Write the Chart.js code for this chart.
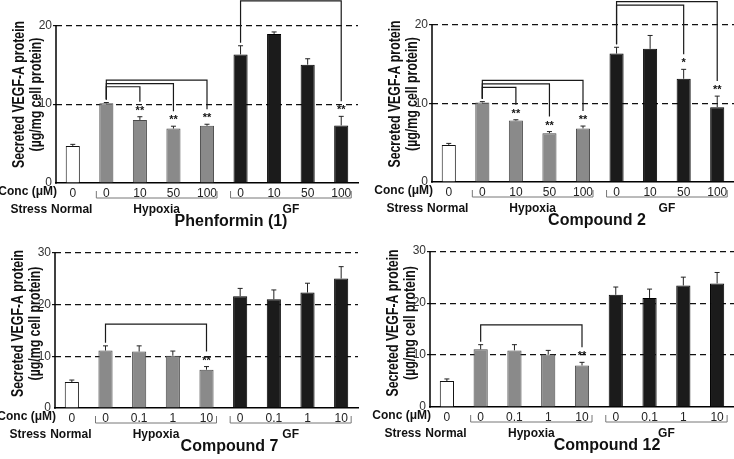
<!DOCTYPE html>
<html>
<head>
<meta charset="utf-8">
<script src="https://cdn.jsdelivr.net/npm/chart.js@4.4.1/dist/chart.umd.min.js"></script>
<style>
    html, body { margin: 0; padding: 0; background: #fff; }
    #wrap { position: relative; width: 734px; height: 459px; overflow: hidden; }
    canvas { position: absolute; }
</style>
</head>
<body>
<div id="wrap">
    <canvas id="p1" width="367" height="230" style="left:0;top:0"></canvas>
    <canvas id="p2" width="367" height="230" style="left:367px;top:0"></canvas>
    <canvas id="p3" width="367" height="229" style="left:0;top:230px"></canvas>
    <canvas id="p4" width="367" height="229" style="left:367px;top:230px"></canvas>
</div>
<script>
// ---- data ----
const CONC_HIGH = ['0', '0', '10', '50', '100', '0', '10', '50', '100'];
const CONC_LOW  = ['0', '0', '0.1', '1', '10', '0', '0.1', '1', '10'];

// stress groups: label + first/last bar index
const STRESS_GROUPS = [
    { label: 'Normal',  from: 0, to: 0, bracket: false },
    { label: 'Hypoxia', from: 1, to: 4, bracket: true  },
    { label: 'GF',      from: 5, to: 8, bracket: true  },
];

const PHEN_MEAN  = [4.7, 10.1, 8.0, 6.9, 7.25, 16.3, 18.9, 15.0, 7.3];
const PHEN_ERR   = [0.2, 0.1, 0.4, 0.3, 0.2, 1.1, 0.25, 0.75, 1.15];
const CPD2_MEAN  = [4.7, 10.1, 7.8, 6.2, 6.8, 16.3, 16.9, 13.1, 9.5];
const CPD2_ERR   = [0.2, 0.1, 0.1, 0.2, 0.3, 0.8, 1.7, 1.2, 1.4];
const CPD7_MEAN  = [5.0, 11.1, 10.9, 10.1, 7.4, 21.6, 21.0, 22.3, 25.0];
const CPD7_ERR   = [0.4, 0.9, 1.1, 0.9, 0.6, 1.5, 1.8, 1.8, 2.3];
const CPD12_MEAN = [5.0, 11.1, 10.9, 10.1, 8.0, 21.6, 21.0, 23.4, 23.8];
const CPD12_ERR  = [0.4, 0.9, 1.1, 0.8, 0.6, 1.5, 1.7, 1.6, 2.1];

// significance: compared bars, bracket height (y units), mark
const PHEN_SIG  = [
    { from: 1, to: 2, level: 12.2,  mark: '**' },
    { from: 1, to: 3, level: 12.6,  mark: '**' },
    { from: 1, to: 4, level: 13.05, mark: '**' },
    { from: 5, to: 8, level: 23.1,  mark: '**' },
];
const CPD2_SIG  = [
    { from: 1, to: 2, level: 12.0,  mark: '**' },
    { from: 1, to: 3, level: 12.45, mark: '**' },
    { from: 1, to: 4, level: 12.9,  mark: '**' },
    { from: 5, to: 7, level: 22.45, mark: '*'  },
    { from: 5, to: 8, level: 22.9,  mark: '**' },
];
const CPD7_SIG  = [{ from: 1, to: 4, level: 16.2, mark: '**' }];
const CPD12_SIG = [{ from: 1, to: 4, level: 15.8, mark: '**' }];

const Y_TITLE = ['Secreted VEGF-A protein', '(\u00b5g/mg cell protein)'];

// ---- styling ----
const FONT     = "'Liberation Sans', Arial, Helvetica, sans-serif";
const BAR_FILL = ['#ffffff', '#8a8a8a', '#8a8a8a', '#8a8a8a', '#8a8a8a', '#1b1b1b', '#1b1b1b', '#1b1b1b', '#1b1b1b'];
const BAR_EDGE = ['#111111', '#4a4a4a', '#4a4a4a', '#4a4a4a', '#4a4a4a', '#000000', '#000000', '#000000', '#000000'];

Chart.defaults.font.family = FONT;
Chart.defaults.color = '#222';

const errorBars = {
    id: 'errorBars',
    afterDatasetsDraw(chart) {
        const { ctx } = chart;
        const y  = chart.scales.y;
        const ds = chart.data.datasets[0];
        ctx.save();
        ctx.strokeStyle = '#222';
        ctx.lineWidth = 1;
        chart.getDatasetMeta(0).data.forEach((bar, i) => {
            const top = y.getPixelForValue(ds.data[i] + ds.errors[i]);
            ctx.beginPath();
            ctx.moveTo(bar.x, bar.y);
            ctx.lineTo(bar.x, top);
            ctx.moveTo(bar.x - 2.5, top);
            ctx.lineTo(bar.x + 2.5, top);
            ctx.stroke();
        });
        ctx.restore();
    },
};

function makeDecor(cfg) {
    return {
        id: 'decor',
        afterDraw(chart) {
            const { ctx, chartArea } = chart;
            const x    = chart.scales.x;
            const y    = chart.scales.y;
            const ds   = chart.data.datasets[0];
            const base = chartArea.bottom;
            const left = chartArea.left;

            ctx.save();

            // y axis line, only up to the last tick
            const topTick = y.ticks[y.ticks.length - 1].value;
            ctx.strokeStyle = '#000';
            ctx.lineWidth = 1.5;
            ctx.beginPath();
            ctx.moveTo(left, y.getPixelForValue(0) + 0.75);
            ctx.lineTo(left, y.getPixelForValue(topTick));
            ctx.stroke();

            // y title, condensed bold like the original
            const midY = (chartArea.top + chartArea.bottom) / 2 + 3;
            ctx.fillStyle = '#111';
            ctx.font = `bold 16px ${FONT}`;
            ctx.textAlign = 'center';
            ctx.textBaseline = 'alphabetic';
            Y_TITLE.forEach((line, i) => {
                ctx.save();
                ctx.translate(left - 32 + i * 16.5, midY);
                ctx.rotate(-Math.PI / 2);
                ctx.scale(0.77, 1);
                ctx.fillText(line, 0, 0);
                ctx.restore();
            });

            // significance brackets + stars
            ctx.strokeStyle = '#1a1a1a';
            ctx.lineWidth = 1.2;
            ctx.font = `bold 11px ${FONT}`;
            cfg.sig.forEach(s => {
                const x1    = x.getPixelForValue(s.from);
                const x2    = x.getPixelForValue(s.to);
                const yl    = y.getPixelForValue(s.level);
                const y1    = y.getPixelForValue(ds.data[s.from] + ds.errors[s.from]) - 3;
                const yStar = y.getPixelForValue(ds.data[s.to] + ds.errors[s.to]) - 9;
                ctx.beginPath();
                ctx.moveTo(x1, y1);
                ctx.lineTo(x1, yl);
                ctx.lineTo(x2, yl);
                ctx.lineTo(x2, yStar - 6);
                ctx.stroke();
                ctx.fillText(s.mark, x2, yStar + 6);
            });

            // concentration row label
            ctx.textBaseline = 'middle';
            ctx.textAlign = 'right';
            ctx.font = `bold 12px ${FONT}`;
            ctx.fillText('Conc (\u03bcM)', left + 1, base + 9);

            // stress groups
            const rowY = base + 27;
            STRESS_GROUPS.forEach(g => {
                const xa = x.getPixelForValue(g.from);
                const xb = x.getPixelForValue(g.to);
                if (g.bracket) {
                    ctx.strokeStyle = '#777';
                    ctx.lineWidth = 1;
                    ctx.beginPath();
                    ctx.moveTo(xa - 10, base + 8);
                    ctx.lineTo(xa - 10, base + 15);
                    ctx.lineTo(xb + 10, base + 15);
                    ctx.lineTo(xb + 10, base + 8);
                    ctx.stroke();
                }
                const cx = (xa + xb) / 2 - (g.bracket ? 0 : 1);
                ctx.textAlign = 'center';
                ctx.fillText(g.label, cx, rowY);
                if (!g.bracket) {
                    const w = ctx.measureText(g.label).width;
                    ctx.textAlign = 'right';
                    ctx.fillText('Stress', cx - w / 2 - 4, rowY);
                }
            });

            // compound name
            ctx.textAlign = 'center';
            ctx.font = `bold 16px ${FONT}`;
            ctx.fillText(cfg.title, cfg.titleX, base + 39);

            ctx.restore();
        },
    };
}

function makePanel(cfg) {
    const ctx = document.getElementById(cfg.id);
    return new Chart(ctx, {
        type: 'bar',
        data: {
            labels: cfg.conc,
            datasets: [{
                data: cfg.mean,
                errors: cfg.err,
                backgroundColor: BAR_FILL,
                borderColor: BAR_EDGE,
                borderWidth: 1,
                barPercentage: 0.42,
                categoryPercentage: 1,
            }],
        },
        options: {
            responsive: false,
            animation: false,
            devicePixelRatio: 1,
            layout: { padding: { left: cfg.padLeft, right: cfg.padRight, top: cfg.padTop, bottom: 0 } },
            plugins: { legend: { display: false }, tooltip: { enabled: false } },
            scales: {
                x: {
                    grid: { display: false, drawTicks: false },
                    border: { color: '#000', width: 1.5 },
                    ticks: { color: '#222', font: { size: 12 }, padding: 3, maxRotation: 0, autoSkip: false },
                    afterFit: (s) => {
                        s.height = cfg.xH;
                        s.paddingLeft = 0;
                        s.paddingRight = 0;
                    },
                },
                y: {
                    min: 0,
                    max: cfg.yMax,
                    border: { display: false, dash: [6, 4] },
                    grid: {
                        color: (c) => (c.tick && c.tick.value === 0 ? 'rgba(0,0,0,0)' : '#111'),
                        lineWidth: 1.2,
                        drawTicks: true,
                        tickLength: 3,
                    },
                    ticks: { stepSize: 10, includeBounds: false, color: '#333', font: { size: 12 }, padding: 1 },
                    afterFit: (s) => {
                        s.width = cfg.yW;
                        s.paddingTop = 0;
                        s.paddingBottom = 0;
                    },
                },
            },
        },
        plugins: [errorBars, makeDecor(cfg)],
    });
}

makePanel({ id: 'p1', conc: CONC_HIGH, mean: PHEN_MEAN,  err: PHEN_ERR,  sig: PHEN_SIG,  title: 'Phenformin (1)',
            padLeft: 0, padRight: 9, padTop: 0, yW: 56, xH: 47, yMax: 23.2, titleX: 231 });
makePanel({ id: 'p2', conc: CONC_HIGH, mean: CPD2_MEAN,  err: CPD2_ERR,  sig: CPD2_SIG,  title: 'Compound 2',
            padLeft: 9, padRight: 0, padTop: 0, yW: 56, xH: 48, yMax: 23.1, titleX: 230 });
makePanel({ id: 'p3', conc: CONC_LOW,  mean: CPD7_MEAN,  err: CPD7_ERR,  sig: CPD7_SIG,  title: 'Compound 7',
            padLeft: 0, padRight: 9, padTop: 3, yW: 55, xH: 51, yMax: 33.8, titleX: 229.5 });
makePanel({ id: 'p4', conc: CONC_LOW,  mean: CPD12_MEAN, err: CPD12_ERR, sig: CPD12_SIG, title: 'Compound 12',
            padLeft: 7, padRight: 0, padTop: 3, yW: 56, xH: 52, yMax: 33.5, titleX: 240 });
</script>
</body>
</html>
